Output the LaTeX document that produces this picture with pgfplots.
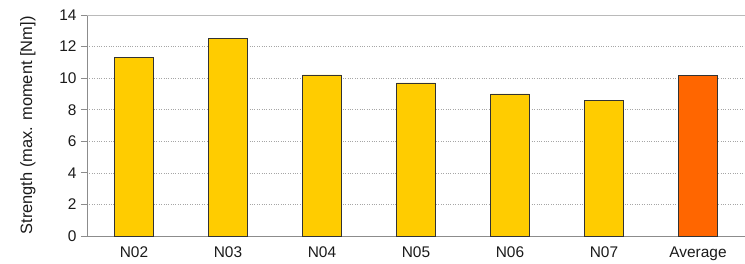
\documentclass[border=0pt]{standalone}
\usepackage{pgfplots}
\pgfplotsset{compat=1.18}
\usepackage{fontspec}
\setmainfont{Liberation Sans}
\definecolor{baryellow}{HTML}{FFCC00}
\definecolor{barorange}{HTML}{FF6600}
\definecolor{axgray}{HTML}{8C8C8C}
\definecolor{txt}{HTML}{1A1A1A}
\begin{document}
\begin{tikzpicture}
\useasboundingbox (-87bp,-28bp) rectangle (658bp,236bp);
\begin{axis}[
  at={(0,0)}, anchor=south west,
  scale only axis, width=658bp, height=221bp,
  xmin=-0.5, xmax=6.5, ymin=0, ymax=14,
  axis lines*=left,
  axis line style={axgray, line width=0.8pt},
  every outer x axis line/.append style={-},
  every outer y axis line/.append style={-},
  ytick={0,2,...,12},
  extra y ticks={14},
  extra y tick labels={14},
  extra y tick style={grid=major, major grid style={solid, axgray!60, line width=0.8pt}},
  ymajorgrids,
  major grid style={dotted, gray!70, line width=0.6pt},
  xtick={0,...,6},
  xticklabels={N02,N03,N04,N05,N06,N07,Average},
  x tick style={draw=none},
  extra x ticks={-0.5,0.5,1.5,2.5,3.5,4.5,5.5},
  extra x tick labels={},
  extra x tick style={tick style={draw=axgray, line width=0.8pt}, major tick length=5bp, tick align=outside, grid=none},
  y tick style={axgray, line width=0.8pt},
  tick align=outside,
  major tick length=6bp,
  tick label style={font=\fontsize{15.5}{18}\selectfont, text=txt},
  /pgf/number format/assume math mode=true,
  yticklabel style={xshift=-1bp},
  xticklabel style={yshift=-1bp},
  ylabel={Strength (max. moment [Nm])},
  ylabel style={font=\fontsize{16.5}{19}\selectfont, text=txt, yshift=5bp},
  ybar, bar width=0.41,
  clip=false,
]
\addplot[ybar, fill=baryellow, draw=black!80, line width=0.7pt, bar shift=0pt]
  coordinates {(0,11.3) (1,12.5) (2,10.2) (3,9.7) (4,9.0) (5,8.6)};
\addplot[ybar, fill=barorange, draw=black!80, line width=0.7pt, bar shift=0pt]
  coordinates {(6,10.2)};
\end{axis}
\end{tikzpicture}
\end{document}
